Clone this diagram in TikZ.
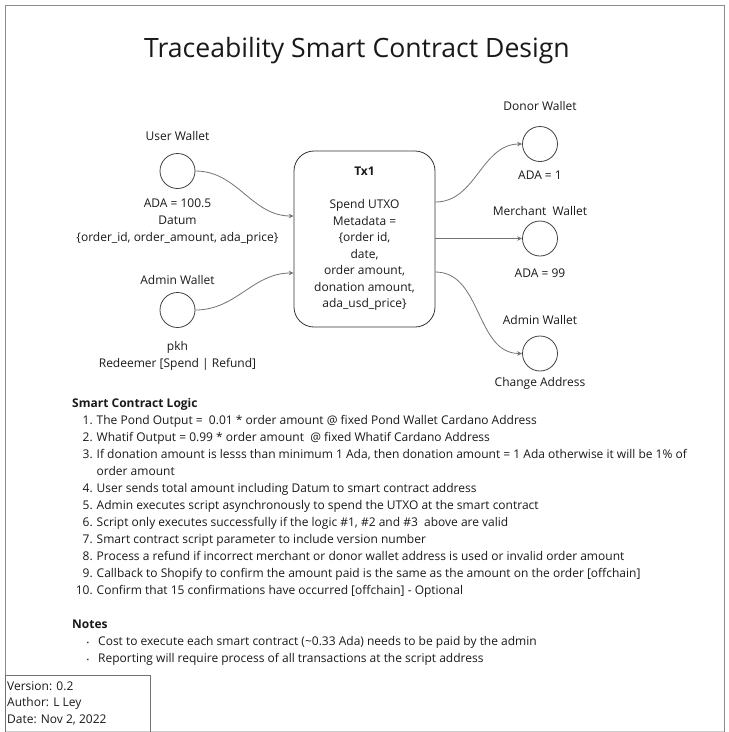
\documentclass[tikz,border=0pt]{standalone}
\usepackage{fontspec}
\setmainfont{Open Sans}
\usetikzlibrary{arrows.meta}

\begin{document}
\begin{tikzpicture}[x=1pt, y=-1pt, font=\fontsize{12}{16.5}\selectfont, text=black!90,
    wallet/.style={draw=black!75, line width=0.8pt, circle, minimum size=35pt, inner sep=0pt},
    flow/.style={draw=black!55, line width=0.8pt, -{Stealth[length=5pt, width=4.5pt]}},
    lbl/.style={align=center, inner sep=0pt}]
  \useasboundingbox (0,0) rectangle (729,732);

  % Frame
  \draw[black!45, line width=1pt] (5,735) |- (724,5) -- (724,735);
  \draw[black!20] (5,731.5) -- (724,731.5);

  % Title
  \node[inner sep=0pt, font=\fontsize{26.6}{30}\selectfont] (title) at (357,51) {Traceability Smart Contract Design};

  % Wallets in
  \node[wallet] (user) at (177.5,171) {};
  \node[wallet] (adminin) at (177.5,310) {};
  \node[lbl, anchor=base] (userlbl) at (177.5,140) {User Wallet};
  \node[lbl, font=\fontsize{12}{17}\selectfont] (userdatum) at (177.5,221.5) {ADA = 100.5\\Datum\\\{order\_id, order\_amount, ada\_price\}};
  \node[lbl, anchor=base] (adminlbl) at (177.5,284) {Admin Wallet};
  \node[lbl, font=\fontsize{12}{17}\selectfont] (adminredeem) at (177.5,355.7) {pkh\\Redeemer [Spend | Refund]};

  % Transaction
  \node[draw=black!80, line width=0.8pt, rounded corners=20pt, minimum width=141pt, minimum height=176pt, align=center] (tx) at (364.5,239)
    {\textbf{Tx1}\\[16.5pt]Spend UTXO\\Metadata =\\\{order id,\\date,\\order amount,\\donation amount,\\ada\_usd\_price\}};

  % Wallets out
  \node[wallet] (donor) at (540,144) {};
  \node[wallet] (merchant) at (540,238.5) {};
  \node[wallet] (adminout) at (540,353.5) {};
  \node[lbl, anchor=base] (donorlbl) at (540,110) {Donor Wallet};
  \node[lbl, anchor=base] (donorada) at (540,179) {ADA = 1};
  \node[lbl, anchor=base] (merchantlbl) at (540,215) {Merchant \ Wallet};
  \node[lbl, anchor=base] (merchantada) at (540,277) {ADA = 99};
  \node[lbl, anchor=base] (adminoutlbl) at (540,324) {Admin Wallet};
  \node[lbl, anchor=base] (change) at (540,386) {Change Address};

  % Connections
  \draw[flow] (user.east) to[out=0, in=180] ([yshift=23pt]tx.west);
  \draw[flow] (adminin.east) to[out=0, in=180] ([yshift=-34pt]tx.west);
  \draw[flow] ([yshift=37pt]tx.east) to[out=0, in=180] (donor.west);
  \draw[flow] (tx.east |- merchant.west) -- (merchant.west);
  \draw[flow] ([yshift=-33pt]tx.east) to[out=0, in=180] (adminout.west);

  % Smart contract logic
  \node[anchor=base west, inner sep=0pt, font=\fontsize{12}{17}\bfseries] (logic) at (72,407) {Smart Contract Logic};
  \foreach \num/\ypos/\txt in {
      1/424/{The Pond Output = \ 0.01 * order amount @ fixed Pond Wallet Cardano Address},
      2/441/{Whatif Output = 0.99 * order amount \ @ fixed Whatif Cardano Address},
      3/458/{If donation amount is lesss than minimum 1 Ada, then donation amount = 1 Ada otherwise it will be 1\% of},
      4/492/{User sends total amount including Datum to smart contract address},
      5/509/{Admin executes script asynchronously to spend the UTXO at the smart contract},
      6/526/{Script only executes successfully if the logic \#1, \#2 and \#3 \ above are valid},
      7/543/{Smart contract script parameter to include version number},
      8/560/{Process a refund if incorrect merchant or donor wallet address is used or invalid order amount},
      9/577/{Callback to Shopify to confirm the amount paid is the same as the amount on the order [offchain]},
      10/594/{Confirm that 15 confirmations have occurred [offchain] - Optional}} {
    \node[anchor=base east, inner sep=0pt] (num\num) at (93,\ypos) {\num.};
    \node[anchor=base west, inner sep=0pt] (item\num) at (96.5,\ypos) {\txt};
  }
  \node[anchor=base west, inner sep=0pt] (item3b) at (96.5,475) {order amount};

  % Notes
  \node[anchor=base west, inner sep=0pt, font=\fontsize{12}{17}\bfseries] (notes) at (72,628) {Notes};
  \node[anchor=base west, inner sep=0pt] (note1) at (98,645) {Cost to execute each smart contract (\textasciitilde0.33 Ada) needs to be paid by the admin};
  \node[anchor=base west, inner sep=0pt] (note2) at (98,662) {Reporting will require process of all transactions at the script address};
  \node[inner sep=0pt, font=\scriptsize] (dot1) at (88,644) {\textbullet};
  \node[inner sep=0pt, font=\scriptsize] (dot2) at (88,661) {\textbullet};

  % Version box
  \node[draw=black!55, anchor=north west, minimum width=145pt, minimum height=60pt, inner sep=0pt] (verbox) at (5,675) {};
  \node[anchor=base west, inner sep=0pt, align=left, font=\fontsize{12}{16.5}\selectfont] (vertext) at (7,723) {Version: 0.2\\Author: L Ley\\Date: Nov 2, 2022};
\end{tikzpicture}
\end{document}
